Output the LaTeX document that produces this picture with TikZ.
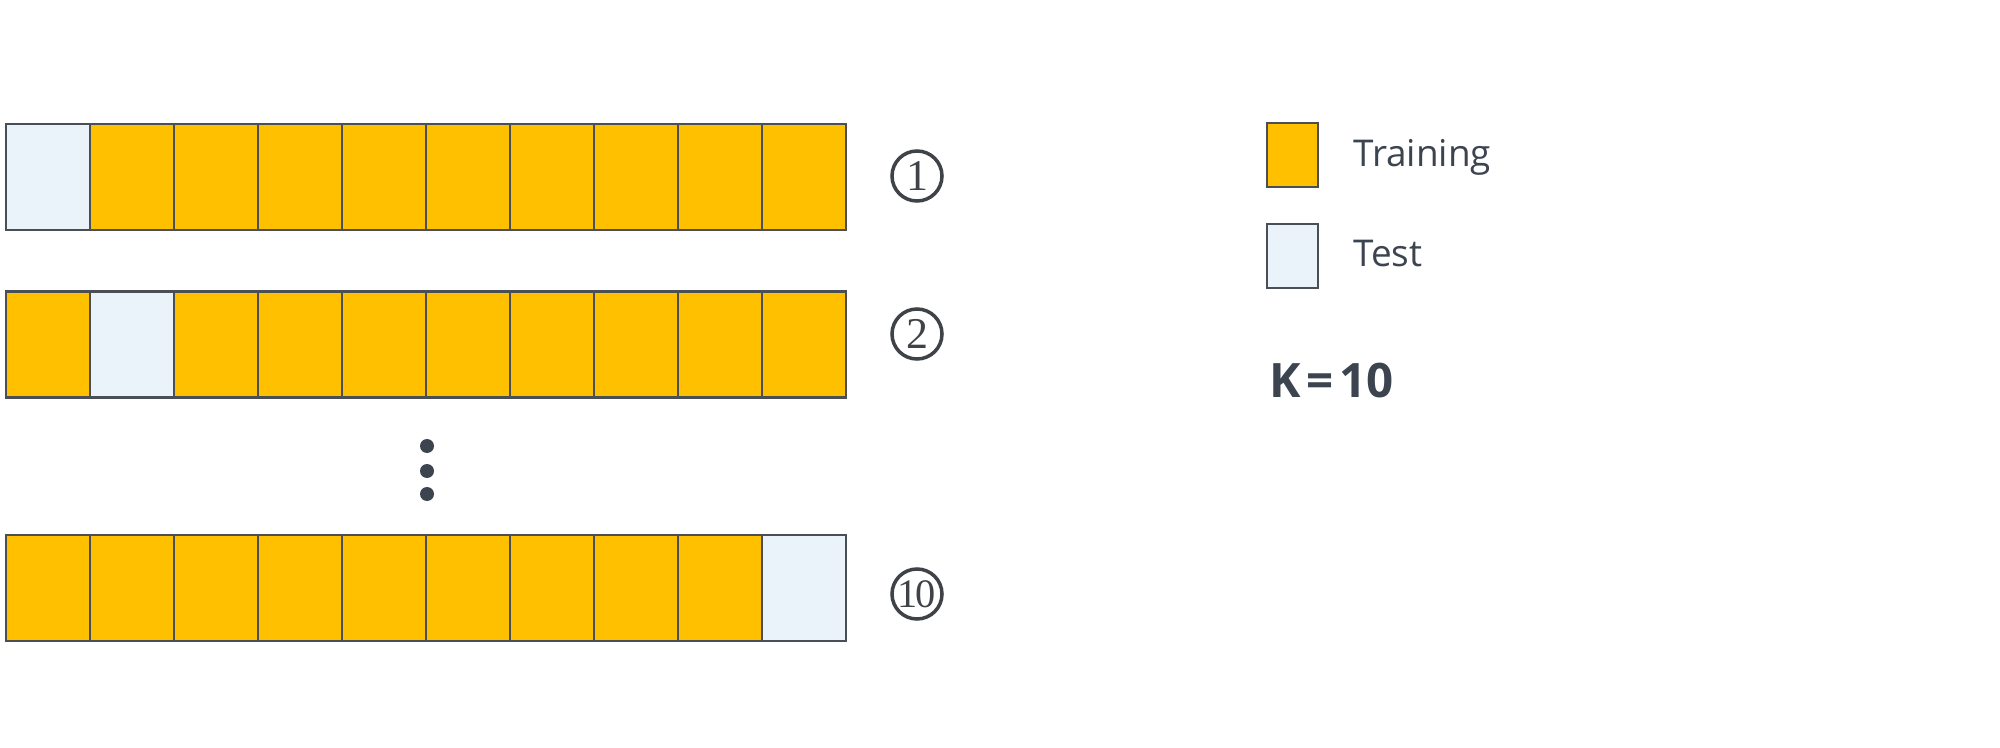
\documentclass[tikz,border=0pt]{standalone}
\usepackage{fontspec}
\usepackage{tikz}
\usetikzlibrary{positioning}
\newfontfamily\legendfont{Open Sans}
\newfontfamily\numfont{Liberation Serif}
\definecolor{gold}{HTML}{FFC000}
\definecolor{pale}{HTML}{EAF3F9}
\definecolor{edge}{HTML}{4A4F55}
\definecolor{ink}{HTML}{3C4450}

\tikzset{
  cell/.style={draw=edge, line width=0.75pt, rectangle, inner sep=0pt,
    minimum width=0.84cm, minimum height=1.06cm},
  train/.style={cell, fill=gold},
  test/.style={cell, fill=pale},
  fold/.style={draw=edge!85!black, circle, line width=1pt, inner sep=0pt,
    minimum size=0.5cm, text=edge!85!black, font=\numfont\fontsize{12.5}{12}\selectfont},
  dot/.style={circle, fill=ink, inner sep=0pt, minimum size=0.14cm},
  label/.style={anchor=base west, text=ink, font=\legendfont\fontsize{10.5}{12}\selectfont}
}

\begin{document}
\begin{tikzpicture}
\useasboundingbox (0, 0) rectangle (20, -7.48);

% fold 1
\node[test] (a1) at (0.48, -1.77) {};
\node[train] (a2) at (1.32, -1.77) {};
\node[train] (a3) at (2.16, -1.77) {};
\node[train] (a4) at (3.00, -1.77) {};
\node[train] (a5) at (3.84, -1.77) {};
\node[train] (a6) at (4.68, -1.77) {};
\node[train] (a7) at (5.52, -1.77) {};
\node[train] (a8) at (6.36, -1.77) {};
\node[train] (a9) at (7.20, -1.77) {};
\node[train] (a10) at (8.04, -1.77) {};

% fold 2
\node[train] (b1) at (0.48, -3.445) {};
\node[test] (b2) at (1.32, -3.445) {};
\node[train] (b3) at (2.16, -3.445) {};
\node[train] (b4) at (3.00, -3.445) {};
\node[train] (b5) at (3.84, -3.445) {};
\node[train] (b6) at (4.68, -3.445) {};
\node[train] (b7) at (5.52, -3.445) {};
\node[train] (b8) at (6.36, -3.445) {};
\node[train] (b9) at (7.20, -3.445) {};
\node[train] (b10) at (8.04, -3.445) {};

% fold 10
\node[train] (c1) at (0.48, -5.88) {};
\node[train] (c2) at (1.32, -5.88) {};
\node[train] (c3) at (2.16, -5.88) {};
\node[train] (c4) at (3.00, -5.88) {};
\node[train] (c5) at (3.84, -5.88) {};
\node[train] (c6) at (4.68, -5.88) {};
\node[train] (c7) at (5.52, -5.88) {};
\node[train] (c8) at (6.36, -5.88) {};
\node[train] (c9) at (7.20, -5.88) {};
\node[test] (c10) at (8.04, -5.88) {};

% vertical ellipsis
\node[dot] (d1) at (4.27, -4.46) {};
\node[dot] (d2) at (4.27, -4.71) {};
\node[dot] (d3) at (4.27, -4.94) {};

% fold numbers
\node[fold] (n1) at (9.17, -1.76) {1};
\node[fold] (n2) at (9.17, -3.34) {2};
\node[fold, font=\numfont\fontsize{11.5}{11}\selectfont] (n10) at (9.17, -5.94) {\kern-0.3pt1\kern-0.8pt0};

% legend
\node[train, minimum width=0.51cm, minimum height=0.64cm] (ktrain) at (12.925, -1.55) {};
\node[test, minimum width=0.51cm, minimum height=0.64cm] (ktest) at (12.925, -2.56) {};
\node[label] (ltrain) at (13.41, -1.67) {Training};
\node[label] (ltest) at (13.41, -2.66) {Test};
\node[label, font=\legendfont\bfseries\fontsize{13.5}{16}\selectfont] (kval) at (12.57, -3.98) {K\hspace{0.12em}=\hspace{0.12em}10};

\end{tikzpicture}
\end{document}
